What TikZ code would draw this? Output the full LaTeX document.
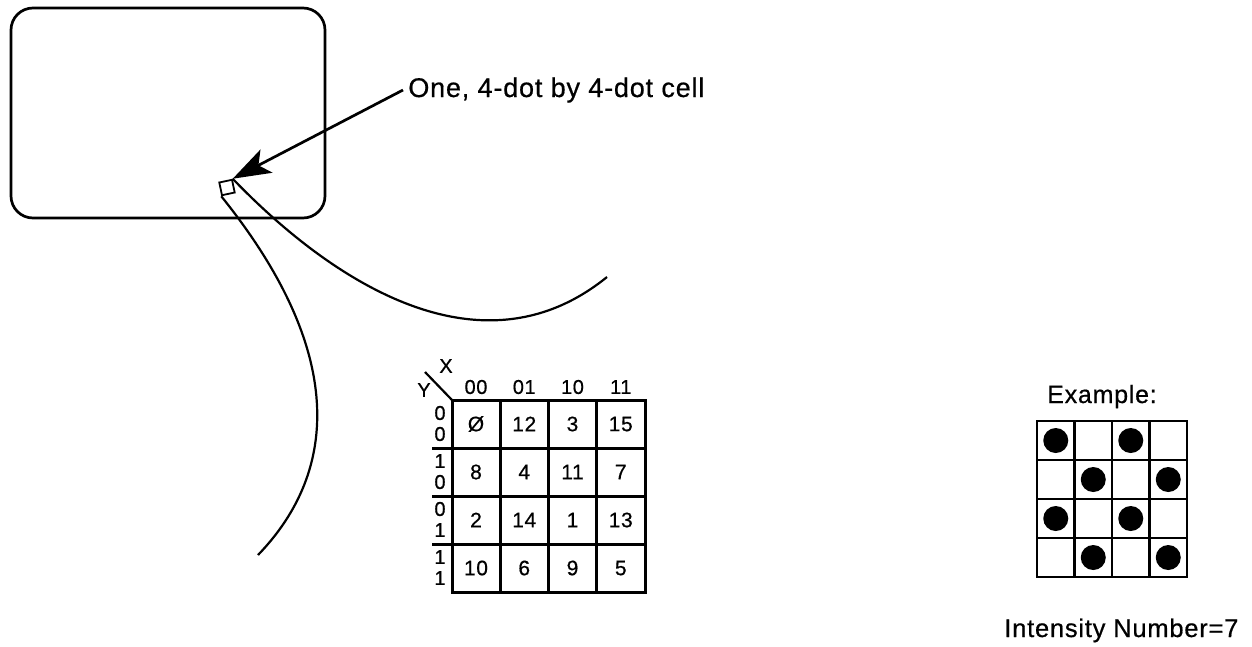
\documentclass[tikz,border=0pt]{standalone}
\usepackage{fontspec}
\setmainfont{Liberation Sans}[FakeBold=0.6,LetterSpace=3]
\usetikzlibrary{arrows.meta}

\begin{document}
\begin{tikzpicture}[x=1pt,y=-1pt,line width=2.7pt,
    lbl/.style={inner sep=0pt,font=\fontsize{27}{30}\selectfont},
    cellnum/.style={inner sep=0pt,font=\fontsize{21}{24}\selectfont},
    bitnum/.style={inner sep=0pt,font=\fontsize{20}{20}\selectfont}]
  \useasboundingbox (0,0) rectangle (1252,646);
  % screen and the one cell
  \draw[rounded corners=22pt] (11,8) rectangle (325,218);
  \node[draw,line width=1.8pt,minimum size=13pt,inner sep=0pt,rotate=12] (cell) at (227,187.5) {};
  \node[lbl,anchor=base west] (celltxt) at (407,97) {One, 4-dot by 4-dot cell};
  \draw[-{Stealth[length=38pt,width=26pt,inset=9pt]}] ([xshift=-4pt]celltxt.west) -- (cell.north east);
  \coordinate (zoomL) at (258,555);
  \coordinate (zoomR) at (607,277);
  \draw[line width=2.2pt] (cell.south west) .. controls (345,350) and (340,470) .. (zoomL);
  \draw[line width=2.2pt] (cell.north east) .. controls (330,280) and (480,380) .. (zoomR);
  % intensity table
  \draw[line width=2.2pt] (425,372) -- (452,400);
  \node[bitnum] (xlab) at (446,366) {X};
  \node[bitnum] (ylab) at (424,390) {Y};
  \foreach \n [count=\i from 0] in {00,01,10,11}
    \node[bitnum] (xh\i) at (476+48.25*\i,387) {\n};
  \foreach \a/\b [count=\r from 0] in {0/0,1/0,0/1,1/1} {
    \node[bitnum] (ya\r) at (440,413+48*\r) {\a};
    \node[bitnum] (yb\r) at (440,434+48*\r) {\b};
  }
  \draw[line width=3pt] (452,400) rectangle (645,592);
  \foreach \i in {1,2,3} {
    \draw[line width=3pt] (452+48.25*\i,400) -- (452+48.25*\i,592);
    \draw[line width=3pt] (432,400+48*\i) -- (645,400+48*\i);
  }
  \foreach \row [count=\r from 0] in {{Ø,12,3,15},{8,4,11,7},{2,14,1,13},{10,6,9,5}}
    \foreach \v [count=\c from 0] in \row
      \node[cellnum] (k\r\c) at (476+48.25*\c,424+48*\r) {\v};
  % example pattern
  \node[lbl,font=\fontsize{25}{28}\selectfont,anchor=base] (extxt) at (1102,403) {Example:};
  \draw (1037,421) rectangle (1187,577);
  \foreach \i in {1,2,3} {
    \draw (1037+37.5*\i,421) -- (1037+37.5*\i,577);
    \draw (1037,421+39*\i) -- (1187,421+39*\i);
  }
  \foreach \c/\r in {0/0,2/0,1/1,3/1,0/2,2/2,1/3,3/3}
    \fill (1055.75+37.5*\c,440.5+39*\r) circle (12.5pt);
  \node[lbl,font=\fontsize{25.5}{28}\selectfont,anchor=base west] (intxt) at (1003,637) {Intensity Number=7};
\end{tikzpicture}
\end{document}
